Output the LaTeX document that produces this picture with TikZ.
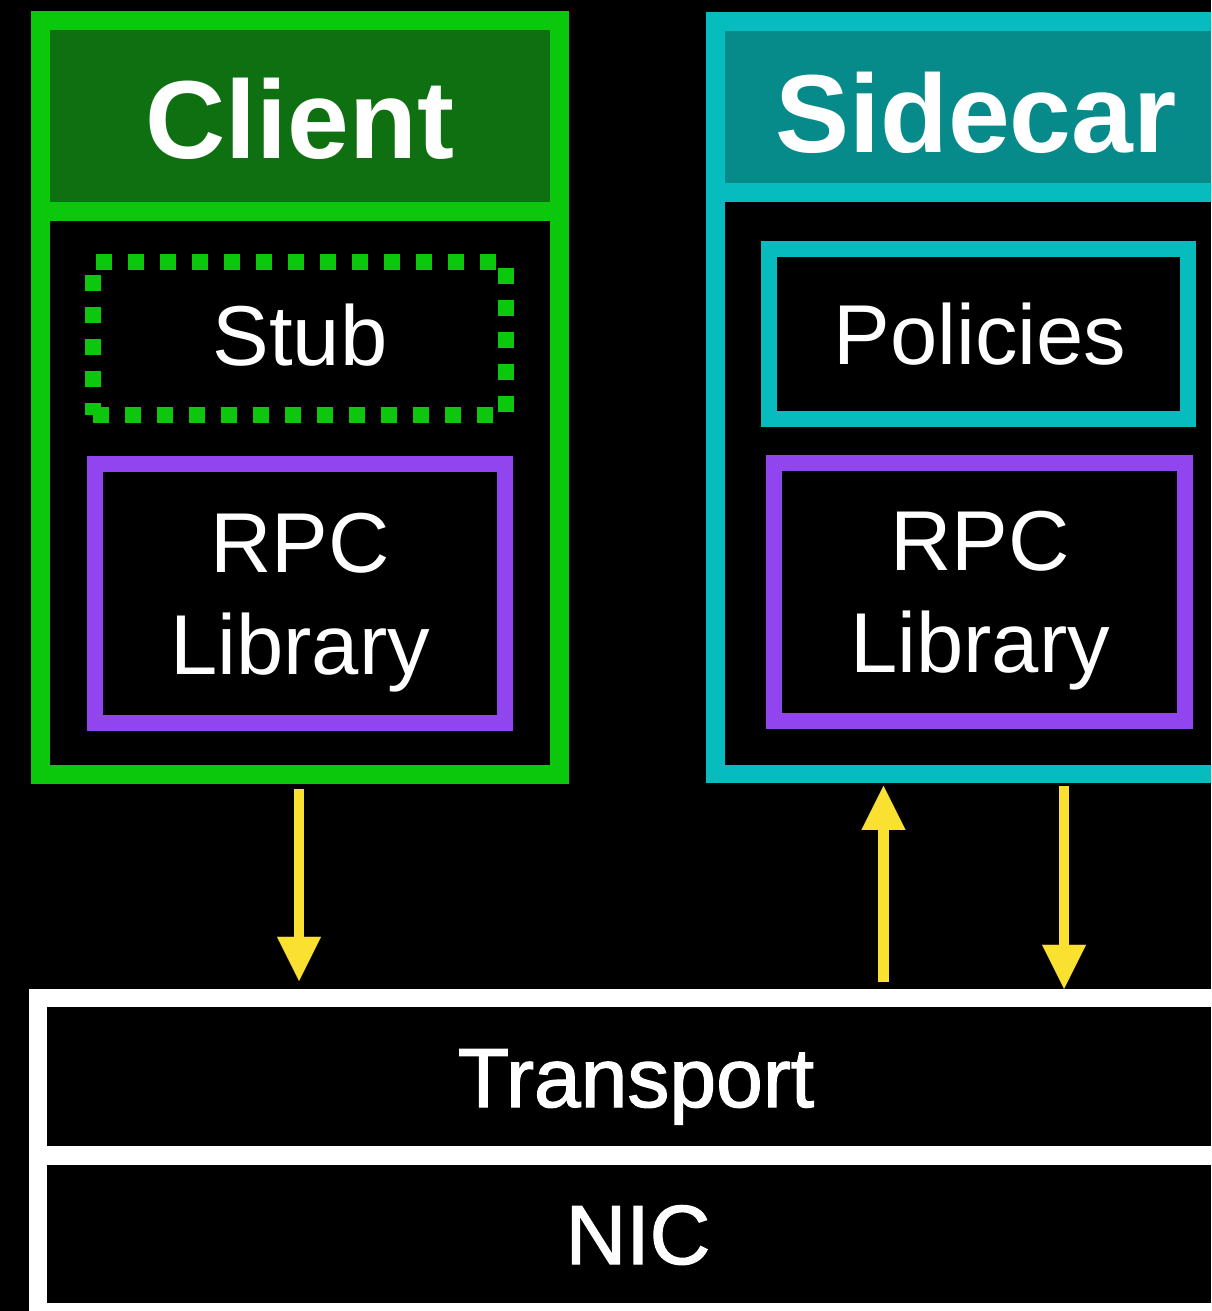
\documentclass[tikz,border=0pt]{standalone}
\usepackage{fontspec}
\setmainfont{Liberation Sans}
\newfontfamily\medfont[FakeBold=1.5]{Liberation Sans}
\usetikzlibrary{arrows.meta,calc}

\definecolor{cgreen}{RGB}{12,200,12}
\definecolor{cgreenhead}{RGB}{15,112,18}
\definecolor{cteal}{RGB}{6,188,190}
\definecolor{ctealhead}{RGB}{6,139,138}
\definecolor{cpurple}{RGB}{144,69,238}
\definecolor{cyellow}{RGB}{249,224,49}

\begin{document}
\begin{tikzpicture}[x=1pt,y=-1pt,
  frame/.style={draw, rectangle, inner sep=0pt},
  title/.style={anchor=base, text=white, inner sep=0pt,
    font=\fontsize{111}{120}\selectfont\bfseries},
  label/.style={anchor=base, text=white, inner sep=0pt, align=center,
    font=\fontsize{85}{102}\selectfont},
  layer/.style={anchor=base, text=white, inner sep=0pt,
    font=\fontsize{84}{102}\selectfont\medfont},
  flow/.style={draw=cyellow, line width=10.5pt,
    -{Triangle[width=44pt,length=44pt,line width=0.01pt]}}]
\useasboundingbox (0,0) rectangle (1211,1311);
\clip (0,0) rectangle (1211,1311);
\fill[black] (0,0) rectangle (1211,1311);

% Client process
\node[frame, draw=cgreen, fill=cgreenhead, line width=19pt,
      minimum width=519.5pt, minimum height=190pt] (clienthead) at (299.75,116) {};
\node[frame, draw=cgreen, line width=19pt,
      minimum width=519.5pt, minimum height=563pt] (client) at (299.75,492.5) {};
\node[title] (clienttitle) at (300,158) {Client};
\node[frame, draw=cgreen, line width=16pt, dash pattern=on 16pt off 16pt,
      minimum width=413pt, minimum height=153pt] (stub) at (299.5,338.5) {};
\node[label] (stubtext) at (300,365) {Stub};
\node[frame, draw=cpurple, line width=16pt,
      minimum width=410pt, minimum height=259pt] (crpc) at (300,593.5) {};
% base of a two-line node sits on its last line
\node[label] (crpctext) at (300,674) {RPC\\Library};

% Sidecar process
\node[frame, draw=cteal, fill=ctealhead, line width=18.6pt,
      minimum width=544.3pt, minimum height=171pt] (sidehead) at (987.85,107) {};
\node[frame, draw=cteal, line width=18.6pt,
      minimum width=544.3pt, minimum height=581.5pt] (sidecar) at (987.85,483.25) {};
\node[title] (sidetitle) at (976,152) {Sidecar};
\node[frame, draw=cteal, line width=16pt,
      minimum width=418.6pt, minimum height=170.3pt] (policies) at (978.3,333.9) {};
\node[label] (policiestext) at (980,364) {Policies};
\node[frame, draw=cpurple, line width=16pt,
      minimum width=411pt, minimum height=258pt] (srpc) at (979.5,592) {};
\node[label] (srpctext) at (980,672) {RPC\\Library};

% Shared network stack
\node[frame, draw=white, line width=18.5pt,
      minimum width=1221.75pt, minimum height=157.5pt] (transport) at (649,1076.75) {};
\node[frame, draw=white, line width=18.5pt,
      minimum width=1221.75pt, minimum height=156.5pt] (nic) at (649,1233.75) {};
\node[layer] (transporttext) at (636,1107) {Transport};
\node[layer] (nictext) at (638,1264) {NIC};

% Data paths
\coordinate (clientx) at (299,0);
\coordinate (upx) at (883.5,0);
\coordinate (downx) at (1064,0);
\draw[flow] ($(client.south -| clientx)+(0,5.5)$) -- ($(transport.north -| clientx)+(0,-8)$);
\draw[flow] ($(transport.north -| upx)+(0,-7)$) -- ($(sidecar.south -| upx)+(0,2.5)$);
\draw[flow] ($(sidecar.south -| downx)+(0,3)$) -- ($(transport.north -| downx)+(0,0)$);
\end{tikzpicture}
\end{document}
